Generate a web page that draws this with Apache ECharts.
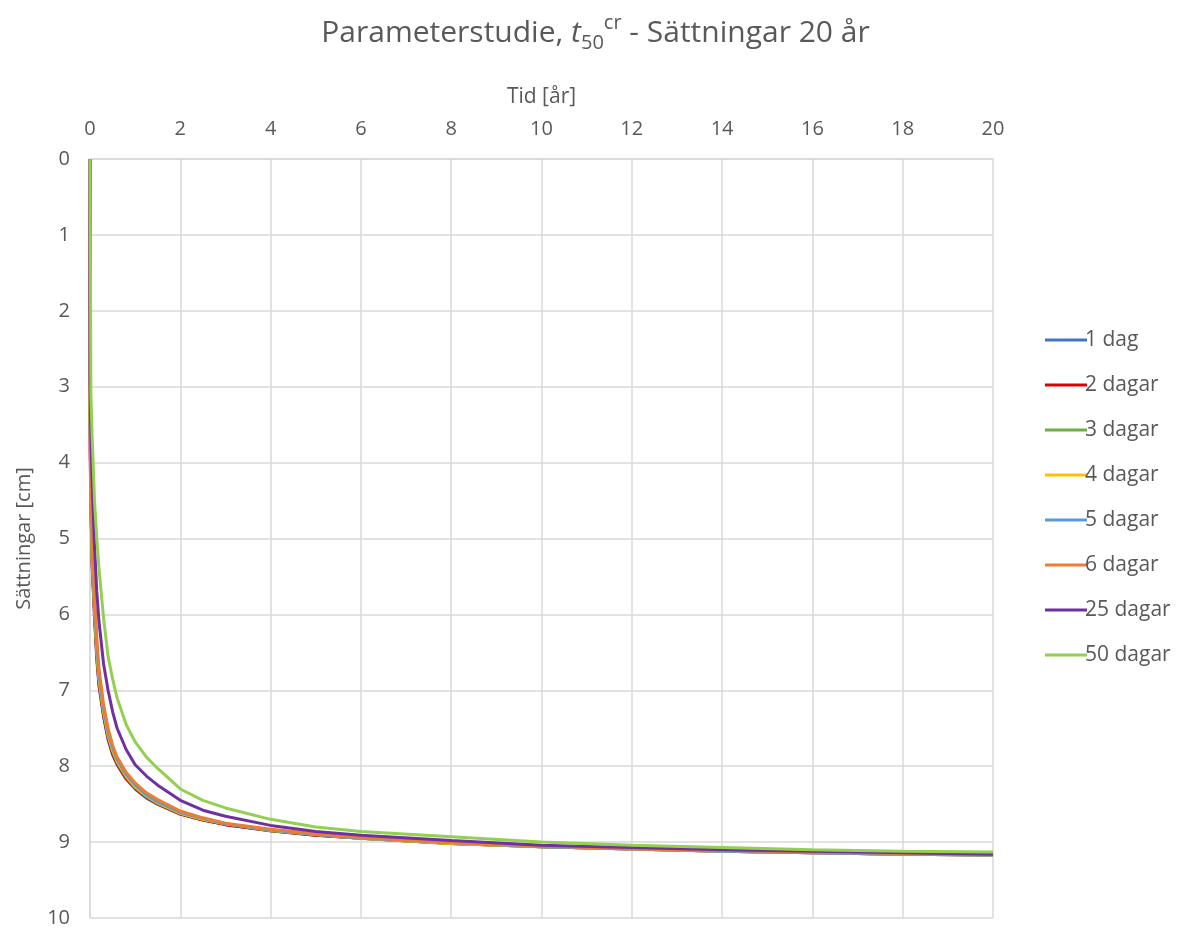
<!DOCTYPE html>
<html>
<head>
<meta charset="utf-8">
<script src="https://cdn.jsdelivr.net/npm/echarts@6/dist/echarts.min.js"></script>
<style>
  html, body { margin: 0; padding: 0; background: #fff; }
  #chart { width: 1191px; height: 929px; }
</style>
</head>
<body>
<div id="chart"></div>
<script>
// tid [år]
var tid = [0, 0.003, 0.02, 0.05, 0.1, 0.15, 0.2, 0.3, 0.4, 0.5, 0.6, 0.8, 1, 1.25, 1.5, 2, 2.5, 3, 4, 5, 6, 8, 10, 12, 14, 16, 18, 20];

// sättningar [cm] per t50cr
var dag1 = [0, 3.5, 4.6, 5.4, 6.05, 6.6, 6.95, 7.35, 7.65, 7.85, 7.98, 8.17, 8.3, 8.42, 8.5, 8.63, 8.71, 8.77, 8.85, 8.91, 8.95, 9.02, 9.06, 9.09, 9.12, 9.14, 9.16, 9.17];
var dagar2 = [0, 3.9, 4.55, 5.35, 6.0, 6.55, 6.92, 7.33, 7.63, 7.83, 7.97, 8.16, 8.29, 8.41, 8.5, 8.63, 8.71, 8.77, 8.85, 8.91, 8.95, 9.02, 9.06, 9.09, 9.12, 9.14, 9.16, 9.17];
var dagar3 = [0, 3.3, 4.5, 5.3, 5.95, 6.5, 6.88, 7.3, 7.6, 7.8, 7.95, 8.14, 8.28, 8.4, 8.49, 8.62, 8.7, 8.76, 8.85, 8.9, 8.95, 9.02, 9.06, 9.09, 9.12, 9.14, 9.16, 9.17];
var dagar4 = [0, 3.2, 4.45, 5.25, 5.9, 6.45, 6.84, 7.27, 7.58, 7.79, 7.93, 8.13, 8.27, 8.39, 8.48, 8.62, 8.7, 8.76, 8.84, 8.9, 8.95, 9.02, 9.06, 9.09, 9.12, 9.14, 9.16, 9.17];
var dagar5 = [0, 3.1, 4.4, 5.2, 5.85, 6.4, 6.8, 7.24, 7.55, 7.76, 7.91, 8.11, 8.25, 8.38, 8.47, 8.61, 8.69, 8.76, 8.84, 8.9, 8.95, 9.01, 9.06, 9.09, 9.12, 9.14, 9.16, 9.17];
var dagar6 = [0, 3.0, 4.3, 5.1, 5.75, 6.3, 6.72, 7.18, 7.5, 7.72, 7.88, 8.08, 8.22, 8.35, 8.44, 8.59, 8.68, 8.75, 8.83, 8.89, 8.94, 9.01, 9.05, 9.09, 9.11, 9.13, 9.15, 9.16];
var dagar25 = [0, 2.9, 3.6, 4.3, 5.1, 5.7, 6.1, 6.65, 7.0, 7.28, 7.5, 7.78, 7.98, 8.13, 8.25, 8.45, 8.58, 8.66, 8.78, 8.86, 8.91, 8.98, 9.04, 9.07, 9.1, 9.12, 9.14, 9.16];
var dagar50 = [0, 0.4, 3.1, 3.7, 4.5, 5.0, 5.4, 6.05, 6.55, 6.85, 7.1, 7.45, 7.68, 7.88, 8.03, 8.3, 8.45, 8.55, 8.7, 8.8, 8.86, 8.93, 9.0, 9.04, 9.07, 9.1, 9.12, 9.13];

var serieNamn = ["1 dag", "2 dagar", "3 dagar", "4 dagar", "5 dagar", "6 dagar", "25 dagar", "50 dagar"];
var serieData = [dag1, dagar2, dagar3, dagar4, dagar5, dagar6, dagar25, dagar50];
var farger = ["#4472C4", "#E00000", "#70AD47", "#FFC000", "#5B9BD5", "#ED7D31", "#7030A0", "#92D050"];

var chart = echarts.init(document.getElementById("chart"));
var textFarg = "#595959";
var font = "Open Sans";

var seriesData = [];
for (var i = 0; i < serieNamn.length; i++) {
  var punkter = [];
  for (var j = 0; j < tid.length; j++) {
    punkter.push([tid[j], serieData[i][j]]);
  }
  seriesData.push({
    name: serieNamn[i],
    type: "line",
    data: punkter,
    symbol: "none",
    lineStyle: { width: 3 }
  });
}

var option = {
  color: farger,
  animation: false,
  textStyle: { fontFamily: font, color: textFarg },
  title: {
    text: "Parameterstudie, {i|t}{sub|50}{sup|cr} - Sättningar 20 år",
    left: "center",
    top: 8,
    textStyle: {
      fontFamily: font,
      fontWeight: "normal",
      fontSize: 30,
      color: textFarg,
      lineHeight: 40,
      rich: {
        i: { fontFamily: font, fontStyle: "italic", fontSize: 30, color: textFarg, lineHeight: 40 },
        sub: { fontFamily: font, fontSize: 20, color: textFarg, verticalAlign: "bottom", lineHeight: 19 },
        sup: { fontFamily: font, fontSize: 20, color: textFarg, verticalAlign: "top", lineHeight: 29 }
      }
    }
  },
  legend: {
    orient: "vertical",
    left: 1040,
    top: 323,
    icon: "rect",
    itemWidth: 42,
    itemHeight: 3,
    itemGap: 21,
    textStyle: { fontFamily: font, fontSize: 21, color: textFarg, lineHeight: 24, padding: [0, 0, 0, -7] },
    data: serieNamn
  },
  grid: {
    left: 90,
    right: 198,
    top: 159,
    bottom: 11
  },
  xAxis: {
    type: "value",
    position: "top",
    min: 0,
    max: 20,
    interval: 2,
    name: "Tid [år]",
    nameLocation: "middle",
    nameGap: 51,
    nameTextStyle: { fontFamily: font, fontSize: 21, color: textFarg },
    axisLine: { show: true, lineStyle: { color: "#d9d9d9", width: 1.5 } },
    axisTick: { show: false },
    axisLabel: { fontFamily: font, fontSize: 20, color: textFarg, margin: 20 },
    splitLine: { show: true, lineStyle: { color: "#d9d9d9", width: 1.5 } }
  },
  yAxis: {
    type: "value",
    inverse: true,
    min: 0,
    max: 10,
    interval: 1,
    name: "Sättningar [cm]",
    nameLocation: "middle",
    nameGap: 56,
    nameTextStyle: { fontFamily: font, fontSize: 20, color: textFarg },
    axisLine: { show: true, lineStyle: { color: "#d9d9d9", width: 1.5 } },
    axisTick: { show: false },
    axisLabel: { fontFamily: font, fontSize: 20, color: textFarg, margin: 20 },
    splitLine: { show: true, lineStyle: { color: "#d9d9d9", width: 1.5 } }
  },
  series: seriesData
};
chart.setOption(option);
window.addEventListener("resize", function () {
  chart.resize();
});
</script>
</body>
</html>
